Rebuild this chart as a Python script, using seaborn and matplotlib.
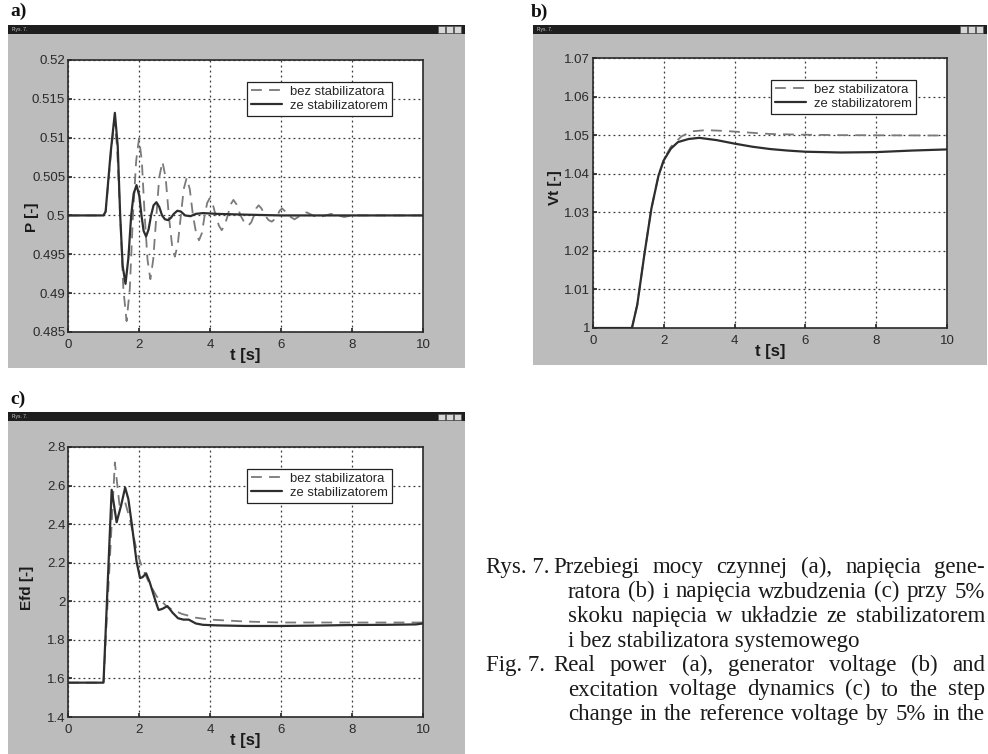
import numpy as np
import matplotlib
matplotlib.use("Agg")
import matplotlib.pyplot as plt
import seaborn as sns
from matplotlib.patches import Rectangle
from matplotlib.ticker import FormatStrFormatter

# ---- data ----
# a) real power P [-]
t_p_bez = [0, 1.0, 1.06, 1.2, 1.3, 1.38, 1.47, 1.56, 1.65, 1.74, 1.83, 1.92, 2.0, 2.08, 2.16,
           2.24, 2.32, 2.4, 2.49, 2.57, 2.66, 2.75, 2.84, 2.93, 3.01, 3.09, 3.18, 3.26, 3.34,
           3.43, 3.52, 3.61, 3.69, 3.77, 3.85, 3.92, 3.99, 4.07, 4.16, 4.25, 4.33, 4.41, 4.5,
           4.58, 4.66, 4.75, 4.86, 4.98, 5.08, 5.16, 5.24, 5.3, 5.37, 5.45, 5.55, 5.65, 5.74,
           5.82, 5.9, 5.96, 6.03, 6.1, 6.2, 6.38, 6.55, 6.72, 6.9, 7.06, 7.25, 7.42, 7.6, 7.78,
           8.0, 10.0]
p_bez = [0.5, 0.5, 0.5005, 0.5075, 0.5122, 0.509, 0.5, 0.4905, 0.4864, 0.4905, 0.5, 0.507,
         0.5099, 0.507, 0.5, 0.4943, 0.4918, 0.4943, 0.5, 0.5049, 0.5069, 0.5049, 0.5, 0.4962,
         0.4947, 0.4962, 0.5, 0.5034, 0.5048, 0.5034, 0.5, 0.4977, 0.4968, 0.4977, 0.5, 0.5016,
         0.5022, 0.5016, 0.5, 0.4987, 0.4981, 0.4987, 0.5, 0.5014, 0.502, 0.5014, 0.5, 0.499,
         0.4987, 0.4991, 0.5, 0.5009, 0.5013, 0.5009, 0.5, 0.4994, 0.4992, 0.4995, 0.5, 0.5006,
         0.5009, 0.5006, 0.5, 0.4995, 0.5, 0.5004, 0.5, 0.4997, 0.5, 0.5002, 0.5, 0.4998,
         0.5, 0.5]
t_p_ze = [0, 1.0, 1.06, 1.2, 1.32, 1.4, 1.47, 1.54, 1.62, 1.7, 1.78, 1.85, 1.93, 2.01, 2.07,
          2.13, 2.2, 2.27, 2.34, 2.41, 2.49, 2.57, 2.65, 2.73, 2.82, 2.9, 2.98, 3.08, 3.18,
          3.3, 3.45, 3.6, 3.8, 4.2, 5.0, 6.0, 10.0]
p_ze = [0.5, 0.5, 0.5005, 0.508, 0.5132, 0.509, 0.5, 0.4935, 0.4912, 0.4945, 0.5, 0.5028,
        0.5039, 0.5025, 0.5, 0.498, 0.4973, 0.4982, 0.5, 0.5013, 0.5017, 0.5011, 0.5, 0.4995,
        0.4994, 0.4997, 0.5002, 0.5006, 0.5005, 0.5, 0.4999, 0.5002, 0.5003, 0.5002, 0.5001,
        0.5, 0.5]

# b) generator voltage Vt [-]
t_vt_bez = [0, 1.05, 1.1, 1.25, 1.45, 1.65, 1.85, 2.0, 2.2, 2.5, 2.8, 3.2, 3.7, 4.2, 5.0,
            6.0, 7.0, 10.0]
vt_bez = [1.0, 1.0, 1.0, 1.006, 1.019, 1.031, 1.0395, 1.0437, 1.047, 1.0497, 1.051, 1.0513,
          1.0511, 1.0508, 1.0503, 1.0501, 1.05, 1.0499]
t_vt_ze = [0, 1.05, 1.1, 1.25, 1.45, 1.65, 1.85, 2.0, 2.2, 2.4, 2.7, 3.0, 3.5, 4.0, 4.5,
           5.0, 5.5, 6.0, 7.0, 8.0, 9.0, 10.0]
vt_ze = [1.0, 1.0, 1.0, 1.006, 1.019, 1.031, 1.0395, 1.0435, 1.0465, 1.0482, 1.049, 1.0493,
         1.0487, 1.0478, 1.047, 1.0464, 1.046, 1.0457, 1.0455, 1.0456, 1.046, 1.0463]

# c) excitation voltage Efd [-]
t_efd_bez = [0, 1.0, 1.32, 1.45, 1.6, 1.75, 1.95, 2.1, 2.3, 2.5, 2.8, 3.2, 3.6, 4.0, 5.0,
             6.0, 8.0, 10.0]
efd_bez = [1.578, 1.578, 2.72, 2.5, 2.52, 2.42, 2.25, 2.17, 2.09, 2.025, 1.97, 1.935, 1.915,
           1.905, 1.895, 1.89, 1.89, 1.89]
t_efd_ze = [0, 1.0, 1.23, 1.37, 1.5, 1.61, 1.7, 1.79, 1.93, 2.03, 2.1, 2.2, 2.3, 2.45, 2.55,
            2.65, 2.8, 2.95, 3.1, 3.25, 3.4, 3.6, 3.8, 4.2, 5.0, 6.0, 7.0, 8.0, 9.0, 9.8, 10.0]
efd_ze = [1.578, 1.578, 2.578, 2.41, 2.5, 2.59, 2.53, 2.41, 2.207, 2.12, 2.125, 2.145, 2.1,
          2.01, 1.955, 1.96, 1.975, 1.94, 1.912, 1.905, 1.905, 1.885, 1.878, 1.875, 1.872,
          1.872, 1.874, 1.877, 1.878, 1.88, 1.885]

x_ticks = [0, 2, 4, 6, 8, 10]
p_ticks = [0.485, 0.49, 0.495, 0.5, 0.505, 0.51, 0.515, 0.52]
vt_ticks = [1.0, 1.01, 1.02, 1.03, 1.04, 1.05, 1.06, 1.07]
efd_ticks = [1.4, 1.6, 1.8, 2.0, 2.2, 2.4, 2.6, 2.8]

legend_labels = ["bez stabilizatora", "ze stabilizatorem"]

caption_left = ["Rys. 7.", "", "", "", "Fig. 7.", "", ""]
caption_lines = [
    "Przebiegi mocy czynnej (a), napięcia gene-",
    "ratora (b) i napięcia wzbudzenia (c) przy 5%",
    "skoku napięcia w układzie ze stabilizatorem",
    "i bez stabilizatora systemowego",
    "Real power (a), generator voltage (b) and",
    "excitation voltage dynamics (c) to the step",
    "change in the reference voltage by 5% in the",
]
caption_justify = [True, True, True, False, True, True, True]

# ---- figure ----
sns.set_theme(style="white")
plt.rcParams["font.family"] = ["Liberation Sans", "DejaVu Sans"]

W, H = 988, 754
fig = plt.figure(figsize=(W / 100, H / 100), dpi=100)
fig.patch.set_facecolor("white")


def fbox(x0, y0, x1, y1):
    # pixel box (top-left origin) -> figure fraction rect
    return [x0 / W, 1 - y1 / H, (x1 - x0) / W, (y1 - y0) / H]


def window(x0, y0, x1, y1, bar_h=9):
    l, b, w, h = fbox(x0, y0 + bar_h, x1, y1)
    fig.add_artist(Rectangle((l, b), w, h, transform=fig.transFigure,
                             facecolor="#bcbcbc", edgecolor="none", zorder=0))
    l, b, w, h = fbox(x0, y0, x1, y0 + bar_h)
    fig.add_artist(Rectangle((l, b), w, h, transform=fig.transFigure,
                             facecolor="#1e1e1e", edgecolor="none", zorder=0))
    fig.text((x0 + 4) / W, 1 - (y0 + bar_h / 2) / H, "Rys. 7.", color="#cfcfcf",
             fontsize=3.5, va="center", ha="left")
    for k in range(3):
        bx = x1 - 27 + k * 8
        l, b, w, h = fbox(bx, y0 + 1.5, bx + 7, y0 + bar_h - 1.5)
        fig.add_artist(Rectangle((l, b), w, h, transform=fig.transFigure,
                                 facecolor="#d8d8d8", edgecolor="#555555",
                                 linewidth=0.5, zorder=1))


window(8, 25, 465, 368)
window(533, 25, 987, 365)
window(8, 412, 465, 754)


def panel(rect, t1, y1, t2, y2, ticks, ylim, ylabel, lab_x, lab_dy=0):
    ax = fig.add_axes(fbox(*rect))
    ax.set_facecolor("white")
    sns.lineplot(x=t1, y=y1, ax=ax, color="#7a7a7a", linewidth=1.3,
                 linestyle=(0, (6, 4)), label=legend_labels[0], sort=False)
    sns.lineplot(x=t2, y=y2, ax=ax, color="#2e2e2e", linewidth=1.6,
                 label=legend_labels[1], sort=False)
    ax.set_xlim(0, 10)
    ax.set_ylim(*ylim)
    ax.set_xticks(x_ticks)
    ax.set_yticks(ticks)
    ax.yaxis.set_major_formatter(FormatStrFormatter("%g"))
    ax.grid(True, linestyle=(0, (1.5, 2.5)), color="#3a3a3a", linewidth=0.9)
    for s in ax.spines.values():
        s.set_color("#2a2a2a")
        s.set_linewidth(1.2)
    ax.tick_params(direction="in", length=3, labelsize=9.5,
                   colors="#2a2a2a", left=True, bottom=True)
    ax.tick_params(axis="x", pad=5)
    ax.tick_params(axis="y", pad=2)
    ax.set_xlabel("t [s]", fontsize=12, fontweight="bold", color="#1a1a1a",
                  labelpad=-2)
    ax.set_ylabel(ylabel, fontsize=11, fontweight="bold", color="#1a1a1a")
    ax.yaxis.set_label_coords(lab_x, 0.5 + lab_dy)
    leg = ax.legend(loc="upper right", bbox_to_anchor=(0.912, 0.92), fontsize=9.4,
                    frameon=True, fancybox=False, borderpad=0.3,
                    handlelength=2.4, handletextpad=0.6, labelspacing=0.15,
                    borderaxespad=0)
    leg.get_frame().set_edgecolor("#222222")
    leg.get_frame().set_linewidth(0.9)
    leg.get_frame().set_facecolor("white")
    leg.get_frame().set_alpha(1)
    return ax


panel((68, 60, 423, 332), t_p_bez, p_bez, t_p_ze, p_ze, p_ticks, (0.485, 0.52),
      "P [-]", -0.082, -0.077)
panel((593, 58, 947, 328), t_vt_bez, vt_bez, t_vt_ze, vt_ze, vt_ticks, (1.0, 1.07),
      "Vt [-]", -0.088, 0.02)
panel((68, 447, 423, 717), t_efd_bez, efd_bez, t_efd_ze, efd_ze, efd_ticks, (1.4, 2.8),
      "Efd [-]", -0.096, -0.022)

# panel letters
serif = ["Liberation Serif", "DejaVu Serif"]
for x, y, s in [(10, 11, "a)"), (531, 12, "b)"), (10, 399, "c)")]:
    fig.text(x / W, 1 - y / H, s, family=serif, fontsize=14, fontweight="bold",
             va="center", ha="left", color="#111111")

# caption: justified lines, kept just inside the right edge
renderer = fig.canvas.get_renderer()
right_edge = 985
cap_fs = 16.5
for i, (lft, line, just) in enumerate(zip(caption_left, caption_lines, caption_justify)):
    y = 1 - (573 + i * 24.5) / H
    kw = dict(family=serif, fontsize=cap_fs, va="baseline", ha="left", color="#1a1a1a")
    if lft:
        fig.text(486 / W, y, lft, **kw)
        x0 = 553
    else:
        x0 = 568
    if not just:
        fig.text(x0 / W, y, line, **kw)
        continue
    words = line.split(" ")
    arts = [fig.text(0, y, w, **kw) for w in words]
    widths = [a.get_window_extent(renderer).width for a in arts]
    gap = (right_edge - x0 - sum(widths)) / (len(words) - 1)
    x = x0
    for a, wd in zip(arts, widths):
        a.set_x(x / W)
        x += wd + gap

fig.savefig("out.png", dpi=100)
